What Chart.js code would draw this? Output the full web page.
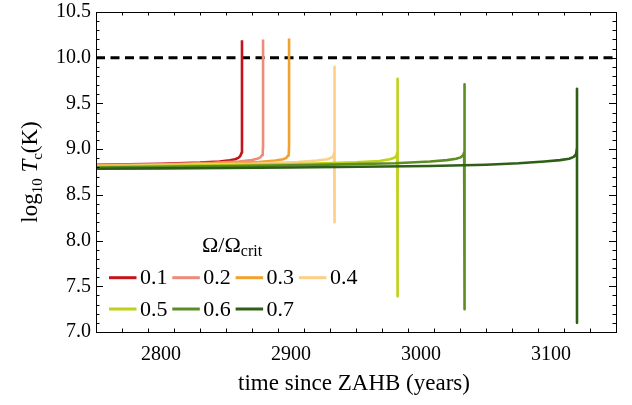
<!DOCTYPE html>
<html><head><meta charset="utf-8">
<script src="https://cdn.jsdelivr.net/npm/chart.js@4.4.0/dist/chart.umd.min.js"></script>
<style>html,body{margin:0;padding:0;background:#fff}canvas{display:block}</style>
</head><body>
<div style="width:632px;height:405px"><canvas id="c" width="632" height="405"></canvas></div>
<script>
// ---- data ----
const seriesLabels = ['0.1','0.2','0.3','0.4','0.5','0.6','0.7'];
const seriesColors = ['#c3141b','#ee8a7a','#f1a22e','#fdcf86','#bfd11a','#5c8d22','#2f5e17'];

const t01 = [2750, 2800, 2830, 2845, 2853, 2857, 2859.5, 2861, 2862, 2862.3, 2862.3];
const T01 = [8.83, 8.84, 8.853, 8.865, 8.878, 8.89, 8.905, 8.925, 8.96, 9.02, 10.19];

const t02 = [2750, 2800, 2840, 2860, 2870, 2874, 2876.5, 2877.7, 2878.3, 2878.5, 2878.5];
const T02 = [8.825, 8.835, 8.85, 8.865, 8.88, 8.895, 8.91, 8.935, 8.97, 9.03, 10.20];

const t03 = [2750, 2800, 2850, 2875, 2888, 2894, 2896.5, 2897.7, 2898.3, 2898.5, 2898.5];
const T03 = [8.82, 8.83, 8.845, 8.86, 8.875, 8.89, 8.905, 8.93, 8.965, 9.03, 10.21];

const t04 = [2750, 2800, 2870, 2905, 2920, 2928, 2931, 2932.7, 2933.3, 2933.5, 2933.5, 2933.5];
const T04 = [8.815, 8.825, 8.84, 8.86, 8.875, 8.89, 8.905, 8.93, 8.965, 9.03, 9.90, 8.20];

const t05 = [2750, 2800, 2900, 2950, 2968, 2976, 2979.5, 2981.2, 2981.8, 2982, 2982, 2982];
const T05 = [8.81, 8.818, 8.835, 8.855, 8.87, 8.89, 8.905, 8.93, 8.965, 9.03, 9.77, 7.39];

const t06 = [2750, 2800, 2900, 2980, 3007, 3020, 3027, 3030.5, 3032.5, 3033.2, 3033.5, 3033.5, 3033.5];
const T06 = [8.80, 8.808, 8.822, 8.845, 8.865, 8.88, 8.895, 8.91, 8.935, 8.965, 9.03, 9.71, 7.25];

const t07 = [2750, 2800, 2900, 3007, 3050, 3075, 3095, 3107, 3114, 3117.5, 3119.3, 3120, 3120, 3120];
const T07 = [8.785, 8.79, 8.80, 8.815, 8.83, 8.845, 8.865, 8.88, 8.895, 8.915, 8.945, 9.02, 9.66, 7.10];

const seriesT = [t01, t02, t03, t04, t05, t06, t07];
const seriesV = [T01, T02, T03, T04, T05, T06, T07];

const xMin = 2750, xMax = 3150, yMin = 7.0, yMax = 10.5;
const xMajor = [2800, 2900, 3000, 3100];
const xMinorStep = 20;
const yMajor = [7.0, 7.5, 8.0, 8.5, 9.0, 9.5, 10.0, 10.5];
const yMinorStep = 0.1;
const refLine = 10.0;

// ---- build datasets ----
const datasets = [];
datasets.push({
  data: [{x: xMin, y: refLine}, {x: xMax, y: refLine}],
  borderColor: '#000', borderWidth: 3, borderDash: [9, 5.5],
  pointRadius: 0, order: 100
});
seriesLabels.forEach((lab, i) => {
  datasets.push({
    label: lab,
    data: seriesT[i].map((t, k) => ({x: t, y: seriesV[i][k]})),
    borderColor: seriesColors[i], borderWidth: 2.6,
    pointRadius: 0, tension: 0, order: 50 - i,
    borderJoinStyle: 'round', borderCapStyle: 'butt'
  });
});

const SERIF = '"Liberation Serif", "DejaVu Serif", serif';

const decor = {
  id: 'decor',
  afterDraw(chart) {
    const ctx = chart.ctx;
    const a = chart.chartArea;
    const xs = chart.scales.x, ys = chart.scales.y;
    ctx.save();
    // frame
    ctx.strokeStyle = '#000';
    ctx.lineWidth = 1;
    ctx.strokeRect(Math.round(a.left) + 0.5, Math.round(a.top) + 0.5,
                   Math.round(a.right - a.left), Math.round(a.bottom - a.top));
    // ticks (inward, all four sides)
    ctx.beginPath();
    for (let v = xMin; v <= xMax + 1e-9; v += xMinorStep) {
      const major = xMajor.some(m => Math.abs(m - v) < 1e-6);
      const L = major ? 7 : 3.5;
      const px = Math.round(xs.getPixelForValue(v)) + 0.5;
      ctx.moveTo(px, a.bottom); ctx.lineTo(px, a.bottom - L);
      ctx.moveTo(px, a.top); ctx.lineTo(px, a.top + L);
    }
    for (let k = 0; k <= Math.round((yMax - yMin) / yMinorStep); k++) {
      const v = yMin + k * yMinorStep;
      const major = yMajor.some(m => Math.abs(m - v) < 1e-6);
      const L = major ? 7 : 3.5;
      const py = Math.round(ys.getPixelForValue(v)) + 0.5;
      ctx.moveTo(a.left, py); ctx.lineTo(a.left + L, py);
      ctx.moveTo(a.right, py); ctx.lineTo(a.right - L, py);
    }
    ctx.stroke();

    // x title
    ctx.fillStyle = '#000';
    ctx.textAlign = 'center';
    ctx.textBaseline = 'alphabetic';
    ctx.font = '23px ' + SERIF;
    ctx.fillText('time since ZAHB (years)', (a.left + a.right) / 2 - 2, 390);

    // y title (rotated)
    ctx.save();
    ctx.translate(37, (a.top + a.bottom) / 2);
    ctx.rotate(-Math.PI / 2);
    const parts = [
      {t: 'log', f: '23px ' + SERIF, dy: 0},
      {t: '10', f: '15px ' + SERIF, dy: 5},
      {t: ' ', f: '23px ' + SERIF, dy: 0},
      {t: 'T', f: 'italic 23px ' + SERIF, dy: 0},
      {t: 'c', f: '15px ' + SERIF, dy: 5},
      {t: '(K)', f: '23px ' + SERIF, dy: 0}
    ];
    let w = 0;
    parts.forEach(p => { ctx.font = p.f; p.w = ctx.measureText(p.t).width; w += p.w; });
    let x = -w / 2;
    ctx.textAlign = 'left';
    parts.forEach(p => { ctx.font = p.f; ctx.fillText(p.t, x, p.dy); x += p.w; });
    ctx.restore();

    // legend title
    ctx.textAlign = 'left';
    ctx.textBaseline = 'alphabetic';
    const lx = a.left + 106, ly = 252;
    ctx.font = '22px ' + SERIF;
    const om = 'Ω/Ω';
    ctx.fillText(om, lx, ly);
    const ow = ctx.measureText(om).width;
    ctx.font = '16px ' + SERIF;
    ctx.fillText('crit', lx + ow, ly + 4);

    // legend entries
    ctx.textBaseline = 'middle';
    seriesLabels.forEach((lab, i) => {
      const row = i < 4 ? 0 : 1;
      const col = i < 4 ? i : i - 4;
      const x0 = a.left + 13 + col * 63.3;
      const y0 = row === 0 ? 277.7 : 309;
      ctx.strokeStyle = seriesColors[i];
      ctx.lineWidth = 3;
      ctx.beginPath();
      ctx.moveTo(x0, y0); ctx.lineTo(x0 + 27.5, y0);
      ctx.stroke();
      ctx.fillStyle = '#000';
      ctx.font = '22px ' + SERIF;
      ctx.fillText(lab, x0 + 31, y0 + 1);
    });
    ctx.restore();
  }
};

new Chart(document.getElementById('c'), {
  type: 'line',
  data: {datasets},
  options: {
    responsive: false, animation: false, devicePixelRatio: 1,
    layout: {padding: {left: 46, top: 12, right: 16, bottom: 0}},
    plugins: {legend: {display: false}, tooltip: {enabled: false}},
    scales: {
      x: {
        type: 'linear', min: xMin, max: xMax,
        grid: {display: false, drawTicks: false},
        border: {display: false},
        afterBuildTicks: s => { s.ticks = xMajor.map(v => ({value: v})); },
        afterFit: s => { s.height = 73; s.paddingLeft = 0; s.paddingRight = 0; },
        ticks: {color: '#000', padding: 11, font: {family: SERIF, size: 20}, maxRotation: 0,
                callback: v => String(v)}
      },
      y: {
        type: 'linear', min: yMin, max: yMax,
        grid: {display: false, drawTicks: false},
        border: {display: false},
        afterBuildTicks: s => { s.ticks = yMajor.map(v => ({value: v})); },
        afterFit: s => { s.width = 50; s.paddingTop = 0; s.paddingBottom = 0; },
        ticks: {color: '#000', padding: 5, font: {family: SERIF, size: 20},
                callback: v => Number(v).toFixed(1)}
      }
    }
  },
  plugins: [decor]
});
</script>
</body></html>
